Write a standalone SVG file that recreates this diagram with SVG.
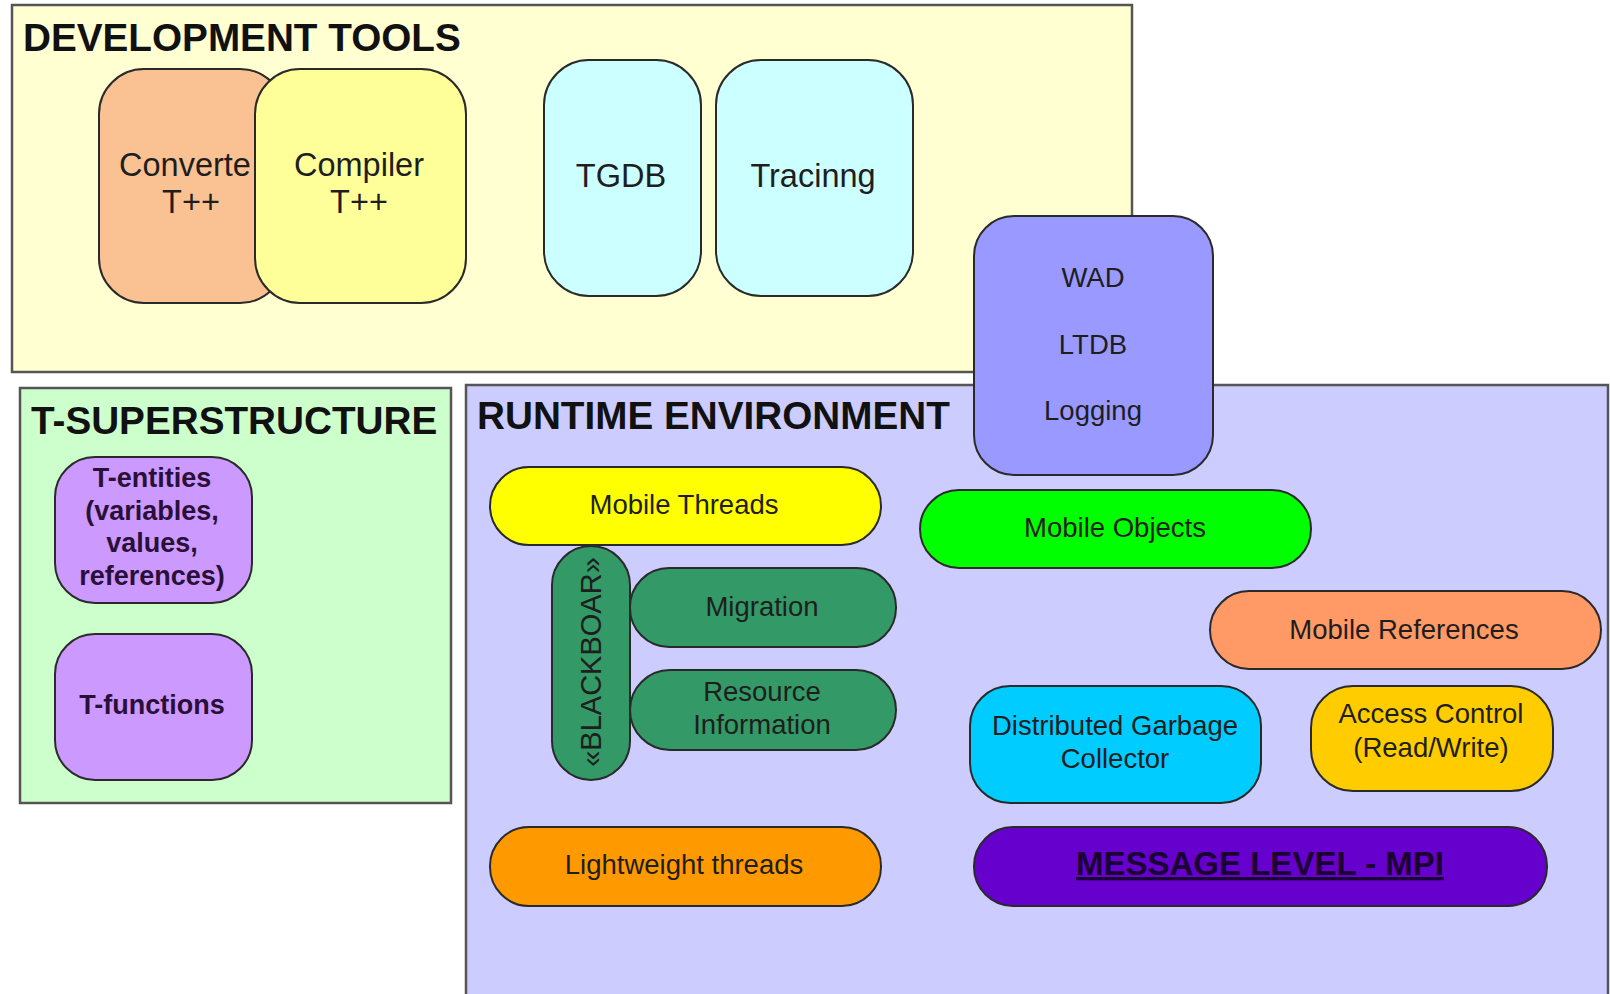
<svg xmlns="http://www.w3.org/2000/svg" width="1610" height="994" viewBox="0 0 1610 994">
<style>
text{font-family:"Liberation Sans",Arial,sans-serif;fill:#1e1e1e;text-anchor:middle}
.title{font-size:38.7px;font-weight:bold;text-anchor:start;fill:#111}
.cont{stroke:#555;stroke-width:2.5}
.node{stroke:#2a2a2a;stroke-width:2}
.big{font-size:32.5px}
.mid{font-size:27.5px}
.bold{font-size:27px;font-weight:bold;fill:#2a1038}
</style>
<rect width="1610" height="994" fill="#ffffff"/>

<g id="dev-tools">
<rect class="cont" x="12" y="5" width="1120" height="367" fill="#ffffd2"/>
<text class="title" x="23" y="51">DEVELOPMENT TOOLS</text>
</g>
<g id="converter">
<rect class="node" x="99" y="69" width="186" height="234" rx="45" fill="#fac193"/>
<text class="big" x="185" y="176">Converte</text>
<text class="big" x="191" y="213">T++</text>
</g>
<g id="compiler">
<rect class="node" x="255" y="69" width="211" height="234" rx="45" fill="#ffff99"/>
<text class="big" x="359" y="176">Compiler</text>
<text class="big" x="359" y="213">T++</text>
</g>
<g id="tgdb">
<rect class="node" x="544" y="60" width="157" height="236" rx="45" fill="#ccffff"/>
<text class="big" x="621" y="187">TGDB</text>
</g>
<g id="tracing">
<rect class="node" x="716" y="60" width="197" height="236" rx="45" fill="#ccffff"/>
<text class="big" x="813" y="187">Tracinng</text>
</g>

<g id="t-superstructure">
<rect class="cont" x="20" y="388" width="431" height="415" fill="#ccffcc"/>
<text class="title" x="31" y="434">T-SUPERSTRUCTURE</text>
</g>
<g id="t-entities">
<rect class="node" x="55" y="457" width="197" height="146" rx="40" fill="#cc99ff"/>
<text class="bold" x="152" y="487">T-entities</text>
<text class="bold" x="152" y="520">(variables,</text>
<text class="bold" x="152" y="552">values,</text>
<text class="bold" x="152" y="585">references)</text>
</g>
<g id="t-functions">
<rect class="node" x="55" y="634" width="197" height="146" rx="40" fill="#cc99ff"/>
<text class="bold" x="152" y="714">T-functions</text>
</g>

<g id="runtime">
<rect class="cont" x="466" y="385" width="1142" height="620" fill="#ccccff"/>
<text class="title" x="477" y="429">RUNTIME ENVIRONMENT</text>
</g>

<g id="wad">
<rect class="node" x="974" y="216" width="239" height="259" rx="40" fill="#9999ff"/>
<text class="mid" x="1093" y="287">WAD</text>
<text class="mid" x="1093" y="354">LTDB</text>
<text class="mid" x="1093" y="420">Logging</text>
</g>

<g id="mobile-threads">
<rect class="node" x="490" y="467" width="391" height="78" rx="39" fill="#ffff00"/>
<text class="mid" x="684" y="514">Mobile Threads</text>
</g>
<g id="blackboard">
<rect class="node" x="552" y="546" width="78" height="234" rx="39" fill="#339966"/>
<text transform="translate(601 662) rotate(-90)" x="0" y="0" style="font-size:29px">«BLACKBOAR»</text>
</g>
<g id="migration">
<rect class="node" x="630" y="568" width="266" height="79" rx="39" fill="#339966"/>
<text class="mid" x="762" y="616">Migration</text>
</g>
<g id="resource-information">
<rect class="node" x="630" y="670" width="266" height="80" rx="40" fill="#339966"/>
<text class="mid" x="762" y="701">Resource</text>
<text class="mid" x="762" y="734">Information</text>
</g>
<g id="lightweight-threads">
<rect class="node" x="490" y="827" width="391" height="79" rx="39" fill="#ff9900"/>
<text class="mid" x="684" y="874">Lightweight threads</text>
</g>
<g id="mobile-objects">
<rect class="node" x="920" y="490" width="391" height="78" rx="39" fill="#00ff00"/>
<text class="mid" x="1115" y="537">Mobile Objects</text>
</g>
<g id="mobile-references">
<rect class="node" x="1210" y="591" width="391" height="78" rx="39" fill="#ff9966"/>
<text class="mid" x="1404" y="639">Mobile References</text>
</g>
<g id="dgc">
<rect class="node" x="970" y="686" width="291" height="117" rx="40" fill="#00ccff"/>
<text class="mid" x="1115" y="735">Distributed Garbage</text>
<text class="mid" x="1115" y="768">Collector</text>
</g>
<g id="access-control">
<rect class="node" x="1311" y="686" width="242" height="105" rx="42" fill="#ffcc00"/>
<text class="mid" x="1431" y="723">Access Control</text>
<text class="mid" x="1431" y="757">(Read/Write)</text>
</g>
<g id="mpi">
<rect class="node" x="974" y="827" width="573" height="79" rx="39" fill="#6600cc"/>
<text x="1260" y="875" style="font-size:33px;font-weight:bold;fill:#1a0033;text-decoration:underline">MESSAGE LEVEL - MPI</text>
</g>

<g id="connectors"></g>
</svg>
